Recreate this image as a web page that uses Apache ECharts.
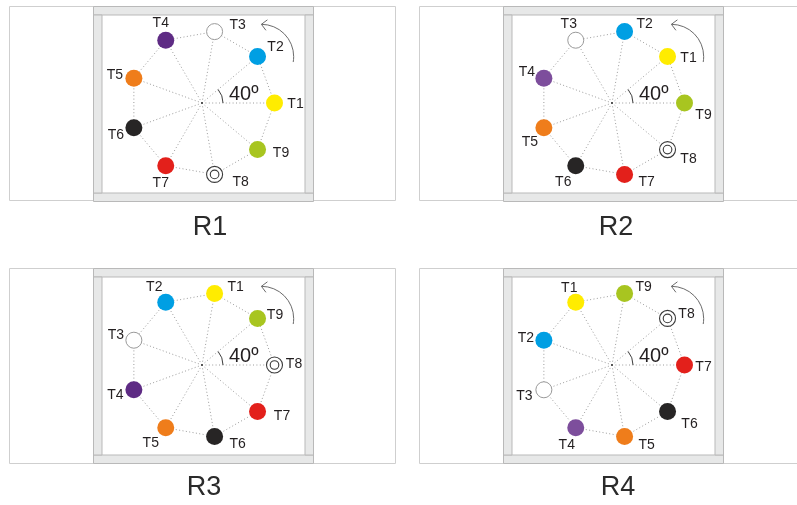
<!DOCTYPE html>
<html>
<head>
<meta charset="utf-8">
<script src="https://cdn.jsdelivr.net/npm/echarts@6/dist/echarts.min.js"></script>
<style>
html,body{margin:0;padding:0;background:#fff;}
#chart{width:797px;height:505px;}
</style>
</head>
<body>
<div id="chart"></div>
<script>
// ---- data ----
const pointLabels = ['T1','T2','T3','T4','T5','T6','T7','T8','T9'];
const panelTitles = ['R1','R2','R3','R4'];
// angular position (degrees, counter-clockwise from east) of T1..T9 in each rotation
const anglesR1 = [0, 40, 80, 120, 160, 200, 240, 280, 320];
const anglesR2 = [40, 80, 120, 160, 200, 240, 280, 320, 0];
const anglesR3 = [80, 120, 160, 200, 240, 280, 320, 0, 40];
const anglesR4 = [120, 160, 200, 240, 280, 320, 0, 40, 80];
const pointRadius = [1, 1, 1, 1, 1, 1, 1, 1, 1];
const stepLabel = '40º';
const stepAngle = [0, 40];

// ---- layout / style ----
const FONT = '"Liberation Sans", Arial, sans-serif';
const panelAngles = [anglesR1, anglesR2, anglesR3, anglesR4];
const panelCenters = [[202, 103], [612, 103], [202, 365], [612, 365]];
const circleRadius = 72.5;
const titlePos = [[210, 228], [616, 228], [204, 488], [618, 488]];
const colorsA = ['#FFEC00', '#009FE3', '#FFFFFF', '#5E2B84', '#EF7D1B', '#272525', '#E3201B', '#FFFFFF', '#A8C520'];
const colorsB = ['#FFEC00', '#009FE3', '#FFFFFF', '#7D4E9C', '#EF7D1B', '#272525', '#E3201B', '#FFFFFF', '#A8C520'];
const panelColors = [colorsA, colorsB, colorsA, colorsB];
const labelOffsets = [
  [[21,1.5],[18,-9],[23,-6],[-5,-17],[-19,-3.5],[-18,7],[-5,17],[26,8],[23.5,4]],
  [[21,2],[20,-7],[-7,-16],[-17,-6.5],[-14,14],[-12.5,16],[22,8],[21,10],[19,12]],
  [[21,-6.5],[-11.5,-15],[-18,-5],[-18.5,5],[-15,15],[23,7.5],[24.5,4.5],[19.5,-0.5],[17.5,-3.5]],
  [[-6.5,-14],[-18,-2],[-19.5,6],[-9,17],[22,8.5],[22,12.5],[19,2.5],[19,-4.5],[19,-6]]
];
const boxes = [
  {x: 9, y: 6, w: 386, h: 194, fx: 93, fy: 6, fw: 220, fh: 195},
  {x: 419, y: 6, w: 390, h: 194, fx: 503, fy: 6, fw: 220, fh: 195},
  {x: 9, y: 268, w: 386, h: 195, fx: 93, fy: 268, fw: 220, fh: 195},
  {x: 419, y: 268, w: 390, h: 195, fx: 503, fy: 268, fw: 220, fh: 195}
];
const DOT = {stroke: '#9c9c9c', lineWidth: 1, lineDash: [1, 2.4]};

const polar = [], angleAxis = [], radiusAxis = [], series = [], graphic = [];

boxes.forEach(function (b) {
  graphic.push({type: 'rect', z: 0, shape: {x: b.x + 0.5, y: b.y + 0.5, width: b.w, height: b.h},
    style: {fill: '#fff', stroke: '#cfcfcf', lineWidth: 1}});
  const bar = 8.5;
  const fs = {fill: '#e7e8e8', stroke: '#b9b9b9', lineWidth: 1};
  graphic.push({type: 'rect', z: 1, shape: {x: b.fx + 0.5, y: b.fy + 0.5, width: b.fw, height: bar}, style: fs});
  graphic.push({type: 'rect', z: 1, shape: {x: b.fx + 0.5, y: b.fy + b.fh - bar + 0.5, width: b.fw, height: bar}, style: fs});
  graphic.push({type: 'rect', z: 1, shape: {x: b.fx + 0.5, y: b.fy + bar + 0.5, width: bar, height: b.fh - 2 * bar}, style: fs});
  graphic.push({type: 'rect', z: 1, shape: {x: b.fx + b.fw - bar + 0.5, y: b.fy + bar + 0.5, width: bar, height: b.fh - 2 * bar}, style: fs});
});

panelTitles.forEach(function (t, i) {
  graphic.push({type: 'text', z: 5, x: titlePos[i][0], y: titlePos[i][1],
    style: {text: t, fill: '#2b2b2b', fontSize: 27, fontFamily: FONT, align: 'center', verticalAlign: 'middle'}});
});

panelAngles.forEach(function (angles, pi) {
  polar.push({center: panelCenters[pi], radius: circleRadius});
  angleAxis.push({polarIndex: pi, type: 'value', min: 0, max: 360, startAngle: 0, clockwise: false, show: false});
  radiusAxis.push({polarIndex: pi, type: 'value', min: 0, max: 1, show: false});

  // spokes
  series.push({
    type: 'custom', coordinateSystem: 'polar', polarIndex: pi, z: 2, silent: true,
    data: angles.map(function (a, k) { return [pointRadius[k], a]; }),
    renderItem: function (params, api) {
      const c = api.coord([0, api.value(1)]);
      const p = api.coord([api.value(0), api.value(1)]);
      return {type: 'line', shape: {x1: c[0], y1: c[1], x2: p[0], y2: p[1]}, style: DOT};
    }
  });
  // ring between neighbouring points
  series.push({
    type: 'custom', coordinateSystem: 'polar', polarIndex: pi, z: 2, silent: true,
    data: angles.map(function (a, k) {
      const n = (k + 1) % angles.length;
      return [pointRadius[k], a, pointRadius[n], angles[n]];
    }),
    renderItem: function (params, api) {
      const p = api.coord([api.value(0), api.value(1)]);
      const q = api.coord([api.value(2), api.value(3)]);
      return {type: 'line', shape: {x1: p[0], y1: p[1], x2: q[0], y2: q[1]}, style: DOT};
    }
  });
  // decorations: angle arc, label, rotation arrow, centre dot
  series.push({
    type: 'custom', coordinateSystem: 'polar', polarIndex: pi, z: 3, silent: true,
    data: [[0, stepAngle[0], stepAngle[1]]],
    renderItem: function (params, api) {
      const c = api.coord([0, 0]);
      const e = api.coord([1, 0]);
      const R = e[0] - c[0];
      const a0 = -api.value(2) * Math.PI / 180, a1 = -api.value(1) * Math.PI / 180;
      const ac = api.coord([1.04, 38]);
      const ar = 0.445 * R;
      const tip = [ac[0], ac[1] - ar];
      return {type: 'group', children: [
        {type: 'arc', shape: {cx: c[0], cy: c[1], r: 0.29 * R, startAngle: a0, endAngle: a1, clockwise: true},
          style: {stroke: '#3c3c3c', lineWidth: 1, fill: null}},
        {type: 'text', x: c[0] + 27, y: c[1] - 9,
          style: {text: stepLabel, fill: '#231f20', fontSize: 20, fontFamily: FONT, align: 'left', verticalAlign: 'middle'}},
        {type: 'arc', shape: {cx: ac[0], cy: ac[1], r: ar, startAngle: -Math.PI / 2, endAngle: 0.17, clockwise: true},
          style: {stroke: '#6b6b6b', lineWidth: 1, fill: null}},
        {type: 'polyline', shape: {points: [[tip[0] + 6, tip[1] - 4.5], tip, [tip[0] + 4.5, tip[1] + 6]]},
          style: {stroke: '#6b6b6b', lineWidth: 1, fill: null}},
        {type: 'circle', shape: {cx: c[0], cy: c[1], r: 0.9}, style: {fill: '#333'}}
      ]};
    }
  });
  // points
  series.push({
    type: 'custom', coordinateSystem: 'polar', polarIndex: pi, z: 4, silent: true,
    data: angles.map(function (a, k) { return [pointRadius[k], a, k]; }),
    renderItem: function (params, api) {
      const p = api.coord([api.value(0), api.value(1)]);
      const k = api.value(2);
      const off = labelOffsets[pi][k];
      const children = [];
      if (pointLabels[k] === 'T3') {
        children.push({type: 'circle', shape: {cx: p[0], cy: p[1], r: 8}, style: {fill: '#fff', stroke: '#9a9a9a', lineWidth: 1}});
      } else if (pointLabels[k] === 'T8') {
        children.push({type: 'circle', shape: {cx: p[0], cy: p[1], r: 8}, style: {fill: '#fff', stroke: '#3a3a3a', lineWidth: 1.1}});
        children.push({type: 'circle', shape: {cx: p[0], cy: p[1], r: 4.3}, style: {fill: '#fff', stroke: '#3a3a3a', lineWidth: 1.1}});
      } else {
        children.push({type: 'circle', shape: {cx: p[0], cy: p[1], r: 8.5}, style: {fill: panelColors[pi][k]}});
      }
      children.push({type: 'text', x: p[0] + off[0], y: p[1] + off[1],
        style: {text: pointLabels[k], fill: '#231f20', fontSize: 14, fontFamily: FONT, align: 'center', verticalAlign: 'middle'}});
      return {type: 'group', children: children};
    }
  });
});

const chart = echarts.init(document.getElementById('chart'), null, {renderer: 'canvas'});
chart.setOption({
  backgroundColor: '#ffffff',
  animation: false,
  polar: polar,
  angleAxis: angleAxis,
  radiusAxis: radiusAxis,
  graphic: graphic,
  series: series
});
</script>
</body>
</html>
